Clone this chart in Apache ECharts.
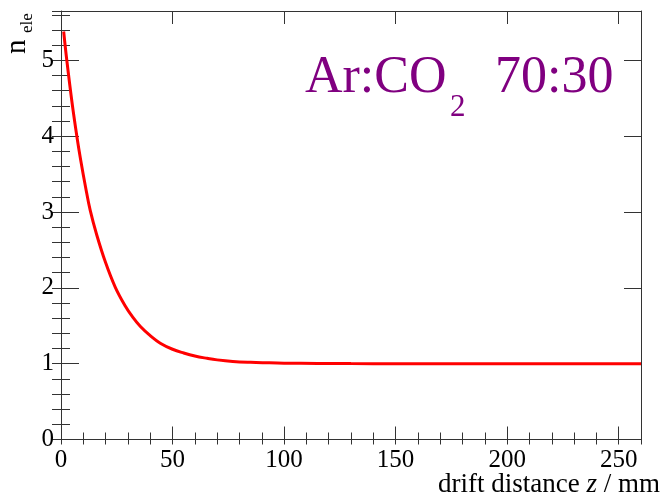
<!DOCTYPE html>
<html>
<head>
<meta charset="utf-8">
<script src="https://cdn.jsdelivr.net/npm/echarts@6/dist/echarts.min.js"></script>
<style>
html,body{margin:0;padding:0;background:#fff;}
#chart{width:667px;height:502px;}
</style>
</head>
<body>
<div id="chart"></div>
<script>
// drift distance z (mm)
const zVals = [1.2, 2.6, 5, 7.2, 8.8, 11, 13.1, 16, 19.9, 24.3, 28.8, 32, 35.6, 40, 44.5, 50, 55, 60, 65.5, 70, 77, 85, 92, 100, 115, 130, 150, 175, 200, 230, 260];
// number of electrons n_ele
const nVals = [5.38, 5.0, 4.43, 3.98, 3.69, 3.33, 3.02, 2.70, 2.34, 2.01, 1.76, 1.62, 1.49, 1.37, 1.27, 1.19, 1.14, 1.10, 1.07, 1.05, 1.03, 1.018, 1.012, 1.007, 1.003, 1.001, 1.00, 1.00, 1.00, 1.00, 1.00];
const xTicks = [0, 50, 100, 150, 200, 250];
const yTicks = [0, 1, 2, 3, 4, 5];

const X_MIN = 0, X_MAX = 260, Y_MIN = 0, Y_MAX = 5.65;
const serif = 'Liberation Serif';
const lineColor = '#333';
const purple = '#800080';

const chart = echarts.init(document.getElementById('chart'), null, {renderer: 'canvas'});
const gridRect = {left: 61, top: 11, right: 26, bottom: 62.5};

function majorX(pos, labels, len) {
  return {
    type: 'value', gridIndex: 0, position: pos, min: X_MIN, max: X_MAX, interval: 50,
    axisLine: {show: true, onZero: false, lineStyle: {color: lineColor, width: 1}},
    axisTick: {show: true, inside: true, length: len, lineStyle: {color: lineColor, width: 1}},
    axisLabel: {show: labels, margin: 8, color: '#000', fontFamily: serif, fontSize: 25,
      formatter: v => xTicks.includes(v) ? String(v) : ''},
    splitLine: {show: false}
  };
}
function minorX(pos, len) {
  return {
    type: 'value', gridIndex: 1, position: pos, min: X_MIN, max: X_MAX, interval: 10,
    axisLine: {show: false}, axisLabel: {show: false}, splitLine: {show: false},
    axisTick: {show: true, inside: true, length: len, lineStyle: {color: lineColor, width: 1}}
  };
}
function majorY(pos, labels, len) {
  return {
    type: 'value', gridIndex: 0, position: pos, min: Y_MIN, max: Y_MAX, interval: 1,
    axisLine: {show: true, onZero: false, lineStyle: {color: lineColor, width: 1}},
    axisTick: {show: true, inside: true, length: len, lineStyle: {color: lineColor, width: 1}},
    axisLabel: {show: labels, margin: 7, color: '#000', fontFamily: serif, fontSize: 25,
      formatter: v => yTicks.includes(v) ? String(v) : ''},
    splitLine: {show: false}
  };
}
function minorY(pos, len) {
  return {
    type: 'value', gridIndex: 1, position: pos, min: Y_MIN, max: Y_MAX, interval: 0.2,
    axisLine: {show: false}, axisLabel: {show: false}, splitLine: {show: false},
    axisTick: {show: true, inside: true, length: len, lineStyle: {color: lineColor, width: 1}}
  };
}

const option = {
  animation: false,
  backgroundColor: '#fff',
  grid: [
    Object.assign({containLabel: false}, gridRect),
    Object.assign({containLabel: false}, gridRect)
  ],
  xAxis: [majorX('bottom', true, 13), majorX('top', false, 13), minorX('bottom', 7), minorX('top', 5)],
  yAxis: [majorY('left', true, 18), majorY('right', false, 17), minorY('left', 9), minorY('right', 9)],
  series: [
    {
      type: 'line', xAxisIndex: 0, yAxisIndex: 0,
      data: zVals.map((z, i) => [z, nVals[i]]),
      showSymbol: false, smooth: 0.4,
      lineStyle: {color: '#ff0000', width: 3},
      itemStyle: {color: '#ff0000'}
    },
    {type: 'line', xAxisIndex: 2, yAxisIndex: 2, data: [], showSymbol: false}
  ],
  graphic: [
    {type: 'text', x: 305, y: 78, style: {text: 'Ar:CO', fill: purple, font: '52px "Liberation Serif"', textAlign: 'left', textVerticalAlign: 'middle'}},
    {type: 'text', x: 450, y: 108, style: {text: '2', fill: purple, font: '31px "Liberation Serif"', textAlign: 'left', textVerticalAlign: 'middle'}},
    {type: 'text', x: 495, y: 78, style: {text: '70:30', fill: purple, font: '52px "Liberation Serif"', textAlign: 'left', textVerticalAlign: 'middle'}},
    {type: 'text', x: 660, y: 485, style: {
      text: '{r|drift distance }{i|z}{r| / mm}',
      textAlign: 'right', textVerticalAlign: 'middle',
      rich: {
        r: {fontFamily: serif, fontSize: 27, fill: '#000', color: '#000'},
        i: {fontFamily: serif, fontSize: 27, fontStyle: 'italic', fill: '#000', color: '#000'}
      }
    }},
    {type: 'text', x: 17, y: 54, rotation: Math.PI / 2, style: {text: 'n', fill: '#000', font: '29px "Liberation Serif"', textAlign: 'left', textVerticalAlign: 'middle'}},
    {type: 'text', x: 28, y: 33, rotation: Math.PI / 2, style: {text: 'ele', fill: '#000', font: '17px "Liberation Serif"', textAlign: 'left', textVerticalAlign: 'middle'}}
  ]
};
chart.setOption(option);
</script>
</body>
</html>
